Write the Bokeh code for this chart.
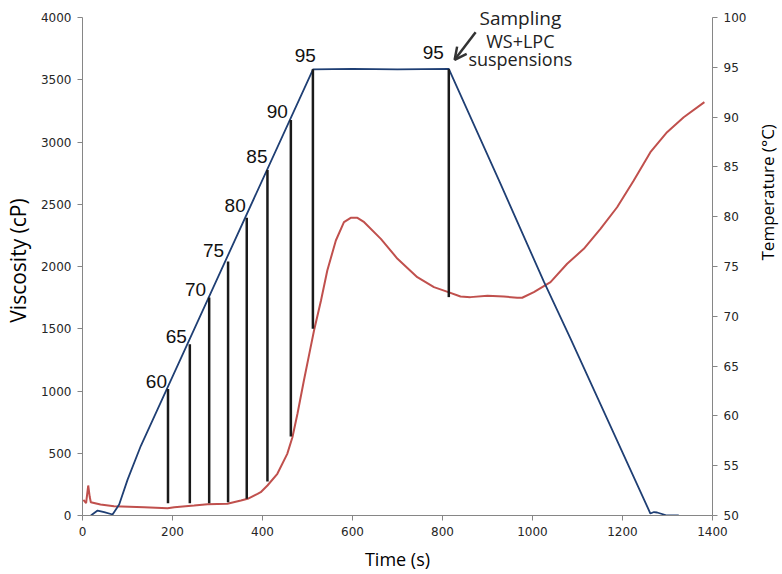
import math
from bokeh.plotting import figure
from bokeh.models import Range1d, LinearAxis, FixedTicker, Arrow, OpenHead, Label, ColumnDataSource
from bokeh.embed import file_html
from bokeh.resources import INLINE
from bokeh.core.properties import value

# ---------------- data ----------------
time_visc = [2, 8, 12.7, 16, 18.5, 40, 70, 137, 189, 204, 248, 278, 322, 352, 367, 389, 396,
             411, 433, 455, 466.5, 477.7, 492, 507, 514.5, 530, 544, 563, 581, 596, 611, 626,
             663, 700, 744, 781, 813, 840, 862, 900, 936, 966, 977, 1003, 1040, 1077, 1114,
             1151, 1188, 1225, 1262, 1299, 1336, 1382]
viscosity = [125, 100, 241, 150, 107, 88, 75, 67, 58, 67, 80, 90, 94, 120, 134, 174, 187,
             241, 335, 495, 629, 817, 1084, 1352, 1486, 1727, 1968, 2209, 2356, 2391, 2391, 2356,
             2222, 2062, 1914, 1834, 1794, 1759, 1754, 1765, 1759, 1749, 1749, 1794, 1874, 2022, 2142,
             2303, 2476, 2691, 2918, 3079, 3199, 3320]

time_temp = [18.6, 33.5, 48.2, 66.8, 81.5, 100.2, 129.7, 512.3, 600, 700, 814, 929, 1025,
             1085, 1262, 1270, 1277, 1299, 1325]
temperature = [50.0, 50.5, 50.33, 50.1, 51.1, 53.6, 57.0, 94.8, 94.85, 94.8, 94.85, 83.3, 73.5,
               67.7, 50.2, 50.35, 50.3, 50.0, 50.0]

sample_time = [190, 238.5, 281.5, 323.5, 365, 411, 463, 512, 814]
sample_temp_top = [62.7, 67.2, 71.9, 75.5, 79.9, 84.7, 89.7, 94.8, 94.8]
sample_visc_bottom = [99, 99, 99, 107, 134, 273, 635, 1500, 1754]
sample_labels = ["60", "65", "70", "75", "80", "85", "90", "95", "95"]

x_ticks = [0, 200, 400, 600, 800, 1000, 1200, 1400]
visc_ticks = [0, 500, 1000, 1500, 2000, 2500, 3000, 3500, 4000]
temp_ticks = [50, 55, 60, 65, 70, 75, 80, 85, 90, 95, 100]

annotation_lines = ["Sampling", "WS+LPC", "suspensions"]

# ---------------- styles ----------------
label_dx = [-1, -3, -3, -4, -1, 0, -3, 3, -5]
label_dy = [-8, -8, -8, -11, -12, -13, -9, -14, -17]

VMIN, VMAX = 0, 4000
TMIN, TMAX = 50, 100
PX_PER_UNIT = 498 / (VMAX - VMIN)   # plot height 498 px for the 0-4000 span
EXTRA_TOP_PX = 12                   # headroom above 4000 so the annotation is not clipped
extra_v = EXTRA_TOP_PX / PX_PER_UNIT
VTOP = VMAX + extra_v
TTOP = TMAX + extra_v * (TMAX - TMIN) / (VMAX - VMIN)


def t2v(T):
    return (T - TMIN) / (TMAX - TMIN) * (VMAX - VMIN) + VMIN


p = figure(frame_width=630, frame_height=498 + EXTRA_TOP_PX,
           x_range=Range1d(0, 1400), y_range=Range1d(VMIN, VTOP),
           output_backend="svg", toolbar_location=None,
           min_border_left=82, min_border_right=70, min_border_top=5, min_border_bottom=59)
p.extra_y_ranges = {"temp": Range1d(TMIN, TTOP)}
p.add_layout(LinearAxis(y_range_name="temp"), "right")

p.xgrid.visible = False
p.ygrid.visible = False
p.outline_line_color = None
p.background_fill_color = "white"
p.border_fill_color = "white"

for ax in p.axis:
    ax.axis_line_color = "#868686"
    ax.major_tick_line_color = "#868686"
    ax.major_tick_out = 5
    ax.major_tick_in = 0
    ax.minor_tick_line_color = None
    ax.major_label_text_font = "DejaVu Sans"
    ax.major_label_text_font_size = "12px"
    ax.major_label_text_color = "#262626"
    ax.major_label_standoff = 6
    ax.axis_label_text_font = "Open Sans"
    ax.axis_label_text_font_size = "18px"
    ax.axis_label_text_font_style = "normal"
    ax.axis_label_text_color = "#000000"
    ax.axis_label_standoff = 8

p.xaxis.ticker = FixedTicker(ticks=x_ticks)
p.xaxis.axis_label = "Time (s)"
p.yaxis[0].ticker = FixedTicker(ticks=visc_ticks)
p.yaxis[0].bounds = (VMIN, VMAX)
p.yaxis[0].axis_label = "Viscosity (cP)"
p.yaxis[0].axis_label_text_font_size = "21px"
p.yaxis[0].axis_label_standoff = 6
p.yaxis[1].ticker = FixedTicker(ticks=temp_ticks)
p.yaxis[1].bounds = (TMIN, TMAX)
# trailing no-break spaces push the visible, bottom-to-top title down toward the axis centre
p.yaxis[1].axis_label = "Temperature (°C)" + "\u00a0" * 28
p.yaxis[1].axis_label_text_font_size = "17px"
p.yaxis[1].axis_label_orientation = math.pi / 2
p.yaxis[1].axis_label_standoff = 18

# viscosity (red) and temperature (blue)
p.line(time_visc, viscosity, line_color="#C0504D", line_width=2)
p.line(time_temp, temperature, line_color="#1F3F74", line_width=1.8, y_range_name="temp")

# sampling lines
tops = [t2v(T) for T in sample_temp_top]
src = ColumnDataSource(dict(x=sample_time, y0=sample_visc_bottom, y1=tops,
                            text=sample_labels, dx=label_dx, dy=label_dy))
p.segment(x0="x", y0="y0", x1="x", y1="y1", source=src, line_color="#1a1a1a", line_width=2.5)
p.text(x="x", y="y1", text="text", source=src, x_offset="dx", y_offset="dy",
       text_align="right", text_baseline="alphabetic",
       text_font=value("Liberation Sans"), text_font_size="19px", text_color="#111111")

# annotation
ann_x = 973
ann_y = [3992, 3815, 3664]
ann_size = ["19px", "18px", "18px"]
for txt, yy, fs in zip(annotation_lines, ann_y, ann_size):
    p.add_layout(Label(x=ann_x, y=yy, text=txt, text_align="center", text_baseline="alphabetic",
                       text_font="Open Sans", text_font_size=fs, text_color="#222222"))

p.add_layout(Arrow(x_start=873.6, y_start=3882, x_end=827, y_end=3660,
                   line_color="#333333", line_width=2.5,
                   end=OpenHead(size=12, line_color="#333333", line_width=2.5)))

open("out.html", "w").write(file_html(p, INLINE))
